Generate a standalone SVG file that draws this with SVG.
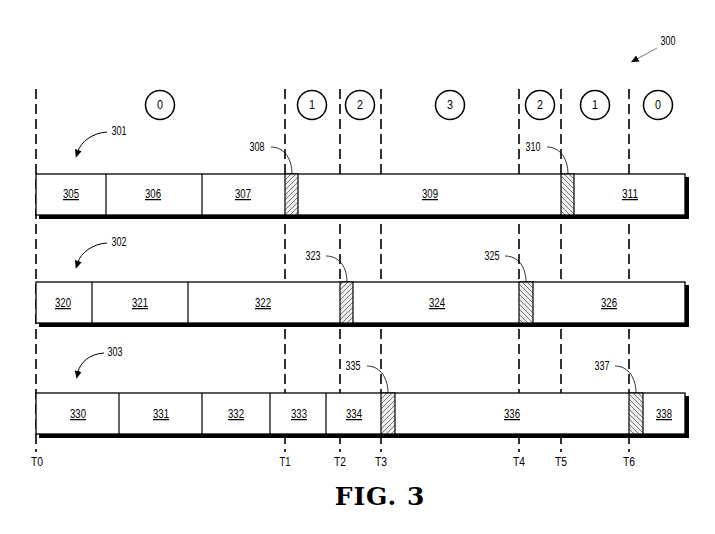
<svg xmlns="http://www.w3.org/2000/svg" width="715" height="534" viewBox="0 0 715 534">
<style>
.t{font-family:"Liberation Sans","Arial",sans-serif;font-size:12.5px;fill:#000;text-anchor:middle}
.u{text-decoration:underline}
.dash{stroke:#000;stroke-width:1.6;stroke-dasharray:10 5;fill:none}
.box{fill:#fff;stroke:#000;stroke-width:1.3}
.sh{fill:#000}
.div{stroke:#000;stroke-width:1.2}
.lead{fill:none;stroke:#000;stroke-width:0.8}
.circ{fill:#fff;stroke:#000;stroke-width:1.5}
.fig{font-family:"DejaVu Serif","Liberation Serif",serif;font-weight:bold;font-size:25px;text-anchor:middle;letter-spacing:1px}
</style>
<defs>
<pattern id="hf" patternUnits="userSpaceOnUse" width="5" height="5">
<rect width="5" height="5" fill="#efefef"/>
<path d="M-1,1 L1,-1 M0,5 L5,0 M4,6 L6,4" stroke="#444" stroke-width="0.7"/>
</pattern>
<pattern id="hb" patternUnits="userSpaceOnUse" width="5" height="5">
<rect width="5" height="5" fill="#efefef"/>
<path d="M-1,4 L1,6 M0,0 L5,5 M4,-1 L6,1" stroke="#444" stroke-width="0.7"/>
</pattern>
<marker id="ah" markerUnits="userSpaceOnUse" markerWidth="9" markerHeight="8" refX="1" refY="3.5" orient="auto">
<path d="M0,0 L8,3.5 L0,7 z" fill="#000"/>
</marker>
</defs>
<rect width="715" height="534" fill="#fff"/>

<g id="timelines">
<line class="dash" x1="36" y1="89" x2="36" y2="452"/>
<line class="dash" x1="285" y1="89" x2="285" y2="452"/>
<line class="dash" x1="340" y1="89" x2="340" y2="452"/>
<line class="dash" x1="381" y1="89" x2="381" y2="452"/>
<line class="dash" x1="519" y1="89" x2="519" y2="452"/>
<line class="dash" x1="561" y1="89" x2="561" y2="452"/>
<line class="dash" x1="629" y1="89" x2="629" y2="452"/>
</g>

<g id="states">
<circle class="circ" cx="160" cy="105" r="14.5"/><text class="t" x="160" y="109" textLength="6" lengthAdjust="spacingAndGlyphs">0</text>
<circle class="circ" cx="312" cy="105" r="14.5"/><text class="t" x="312" y="109" textLength="6" lengthAdjust="spacingAndGlyphs">1</text>
<circle class="circ" cx="360" cy="105" r="14.5"/><text class="t" x="360" y="109" textLength="6" lengthAdjust="spacingAndGlyphs">2</text>
<circle class="circ" cx="450" cy="105" r="14.5"/><text class="t" x="450" y="109" textLength="6" lengthAdjust="spacingAndGlyphs">3</text>
<circle class="circ" cx="540" cy="105" r="14.5"/><text class="t" x="540" y="109" textLength="6" lengthAdjust="spacingAndGlyphs">2</text>
<circle class="circ" cx="595" cy="105" r="14.5"/><text class="t" x="595" y="109" textLength="6" lengthAdjust="spacingAndGlyphs">1</text>
<circle class="circ" cx="658" cy="105" r="14.5"/><text class="t" x="658" y="109" textLength="6" lengthAdjust="spacingAndGlyphs">0</text>
</g>

<g id="row301">
<rect class="sh" x="39" y="177" width="650" height="42"/>
<rect class="box" x="36" y="174" width="649" height="41"/>
<line class="div" x1="106" y1="174" x2="106" y2="215"/>
<line class="div" x1="202" y1="174" x2="202" y2="215"/>
<rect x="285" y="174" width="13" height="41" fill="url(#hf)" stroke="#000" stroke-width="1.2"/>
<rect x="561" y="174" width="13" height="41" fill="url(#hb)" stroke="#000" stroke-width="1.2"/>
<text class="t u" x="71" y="198" textLength="16" lengthAdjust="spacingAndGlyphs">305</text>
<text class="t u" x="153" y="198" textLength="16" lengthAdjust="spacingAndGlyphs">306</text>
<text class="t u" x="243" y="198" textLength="16" lengthAdjust="spacingAndGlyphs">307</text>
<text class="t u" x="430" y="198" textLength="16" lengthAdjust="spacingAndGlyphs">309</text>
<text class="t u" x="630" y="198" textLength="16" lengthAdjust="spacingAndGlyphs">311</text>
</g>

<g id="row302">
<rect class="sh" x="39" y="285" width="650" height="42"/>
<rect class="box" x="36" y="282" width="649" height="41"/>
<line class="div" x1="92" y1="282" x2="92" y2="323"/>
<line class="div" x1="188" y1="282" x2="188" y2="323"/>
<rect x="340" y="282" width="13" height="41" fill="url(#hf)" stroke="#000" stroke-width="1.2"/>
<rect x="519" y="282" width="14" height="41" fill="url(#hb)" stroke="#000" stroke-width="1.2"/>
<text class="t u" x="63" y="307" textLength="16" lengthAdjust="spacingAndGlyphs">320</text>
<text class="t u" x="140" y="307" textLength="16" lengthAdjust="spacingAndGlyphs">321</text>
<text class="t u" x="263" y="307" textLength="16" lengthAdjust="spacingAndGlyphs">322</text>
<text class="t u" x="437" y="307" textLength="16" lengthAdjust="spacingAndGlyphs">324</text>
<text class="t u" x="609" y="307" textLength="16" lengthAdjust="spacingAndGlyphs">326</text>
</g>

<g id="row303">
<rect class="sh" x="39" y="396" width="650" height="42"/>
<rect class="box" x="36" y="393" width="649" height="41"/>
<line class="div" x1="119" y1="393" x2="119" y2="434"/>
<line class="div" x1="202" y1="393" x2="202" y2="434"/>
<line class="div" x1="270" y1="393" x2="270" y2="434"/>
<line class="div" x1="326" y1="393" x2="326" y2="434"/>
<rect x="381" y="393" width="14" height="41" fill="url(#hf)" stroke="#000" stroke-width="1.2"/>
<rect x="629" y="393" width="14" height="41" fill="url(#hb)" stroke="#000" stroke-width="1.2"/>
<text class="t u" x="78" y="418" textLength="16" lengthAdjust="spacingAndGlyphs">330</text>
<text class="t u" x="161" y="418" textLength="16" lengthAdjust="spacingAndGlyphs">331</text>
<text class="t u" x="236" y="418" textLength="16" lengthAdjust="spacingAndGlyphs">332</text>
<text class="t u" x="299" y="418" textLength="16" lengthAdjust="spacingAndGlyphs">333</text>
<text class="t u" x="354" y="418" textLength="16" lengthAdjust="spacingAndGlyphs">334</text>
<text class="t u" x="512" y="418" textLength="16" lengthAdjust="spacingAndGlyphs">336</text>
<text class="t u" x="664" y="418" textLength="16" lengthAdjust="spacingAndGlyphs">338</text>
</g>

<g id="connectors">
<path class="lead" d="M271,147 C285,147 292,160 292,174"/>
<path class="lead" d="M547,147 C561,147 568,160 568,174"/>
<path class="lead" d="M326,256 C340,256 347,268 347,282"/>
<path class="lead" d="M505,256 C519,256 526,268 526,282"/>
<path class="lead" d="M367,366 C381,366 388,379 388,393"/>
<path class="lead" d="M615,366 C629,366 636,379 636,393"/>
<path fill="none" stroke="#000" stroke-width="1" marker-end="url(#ah)" d="M107,132 C92,133 81,142 78,151"/>
<path fill="none" stroke="#000" stroke-width="1" marker-end="url(#ah)" d="M107,243 C92,244 81,253 78,262"/>
<path fill="none" stroke="#000" stroke-width="1" marker-end="url(#ah)" d="M104,353 C89,354 80,363 78,372"/>
<line x1="657" y1="48" x2="637" y2="59" stroke="#666" stroke-width="0.9" marker-end="url(#ah)"/>
</g>

<g id="labels">
<text class="t" x="668" y="45" textLength="15" lengthAdjust="spacingAndGlyphs">300</text>
<text class="t" x="119" y="135" textLength="15" lengthAdjust="spacingAndGlyphs">301</text>
<text class="t" x="119" y="246" textLength="15" lengthAdjust="spacingAndGlyphs">302</text>
<text class="t" x="115" y="356" textLength="15" lengthAdjust="spacingAndGlyphs">303</text>
<text class="t" x="257" y="151" textLength="15" lengthAdjust="spacingAndGlyphs">308</text>
<text class="t" x="533" y="151" textLength="15" lengthAdjust="spacingAndGlyphs">310</text>
<text class="t" x="313" y="260" textLength="15" lengthAdjust="spacingAndGlyphs">323</text>
<text class="t" x="492" y="260" textLength="15" lengthAdjust="spacingAndGlyphs">325</text>
<text class="t" x="353" y="370" textLength="15" lengthAdjust="spacingAndGlyphs">335</text>
<text class="t" x="602" y="370" textLength="15" lengthAdjust="spacingAndGlyphs">337</text>
<text class="t" x="37" y="466" textLength="12" lengthAdjust="spacingAndGlyphs">T0</text>
<text class="t" x="285" y="466" textLength="11" lengthAdjust="spacingAndGlyphs">T1</text>
<text class="t" x="340" y="466" textLength="12" lengthAdjust="spacingAndGlyphs">T2</text>
<text class="t" x="381" y="466" textLength="12" lengthAdjust="spacingAndGlyphs">T3</text>
<text class="t" x="519" y="466" textLength="12" lengthAdjust="spacingAndGlyphs">T4</text>
<text class="t" x="561" y="466" textLength="12" lengthAdjust="spacingAndGlyphs">T5</text>
<text class="t" x="629" y="466" textLength="12" lengthAdjust="spacingAndGlyphs">T6</text>
<text class="fig" x="380" y="505">FIG. 3</text>
</g>
</svg>
